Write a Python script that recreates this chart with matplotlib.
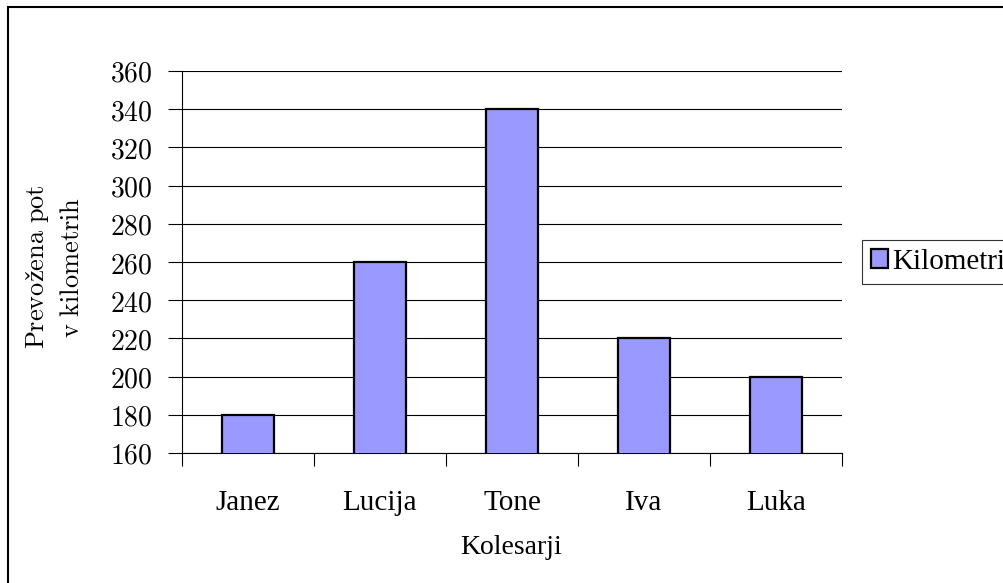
import matplotlib.pyplot as plt
from matplotlib.patches import Rectangle
from matplotlib.font_manager import FontProperties
import numpy as np

# Data
kolesarji = ["Janez", "Lucija", "Tone", "Iva", "Luka"]
kilometri = [180, 260, 340, 220, 200]
y_ticks = list(range(160, 361, 20))

bar_color = '#9999ff'
plt.rcParams['mathtext.fontset'] = 'cm'
txt_font = FontProperties(family=['Liberation Serif', 'DejaVu Serif'], size=21)

fig = plt.figure(figsize=(10.04, 5.83), dpi=100)
ax = fig.add_axes([182 / 1004, 1 - 453 / 583, 660 / 1004, 382 / 583])

x = np.arange(len(kolesarji))
ax.bar(x, kilometri, width=0.4, color=bar_color, edgecolor='black',
       linewidth=1.6, label='Kilometri', zorder=3)

ax.set_ylim(160, 360)
ax.set_xlim(-0.5, len(kolesarji) - 0.5)

# y axis: ticks outward, labels in Computer Modern
ax.set_yticks(y_ticks)
ax.set_yticklabels([f'${v}$' for v in y_ticks], fontsize=20)
ax.tick_params(axis='y', direction='out', length=10, width=0.8, pad=11)
ax.yaxis.grid(True, color='black', linewidth=0.8, zorder=0)

# x axis: tick marks between categories, labels under each bar
ax.set_xticks(np.arange(-0.5, len(kolesarji), 1.0))
ax.set_xticklabels([])
ax.set_xticks(x, minor=True)
ax.set_xticklabels(kolesarji, minor=True, fontproperties=txt_font)
ax.tick_params(axis='x', which='major', direction='out', length=9, width=0.8)
ax.tick_params(axis='x', which='minor', length=0, pad=27)

for side in ['top', 'right']:
    ax.spines[side].set_visible(False)
for side in ['left', 'bottom']:
    ax.spines[side].set_linewidth(0.8)

fig.text(38 / 1004, 1 - 267 / 583, r'$\mathrm{Prevožena\ pot}$', rotation=90,
         ha='center', va='center', fontsize=19)
fig.text(72 / 1004, 1 - 267 / 583, r'$\mathrm{v\ kilometrih}$', rotation=90,
         ha='center', va='center', fontsize=19)
fig.text(511 / 1004, 1 - 548 / 583, 'Kolesarji', ha='center', va='center',
         fontproperties=FontProperties(family=['Liberation Serif', 'DejaVu Serif'], size=20))

leg = fig.legend(loc='center left', bbox_to_anchor=(862 / 1004, 1 - 262 / 583),
                 prop=txt_font, fancybox=False,
                 frameon=True, borderpad=0.3, handlelength=0.6, handleheight=0.6,
                 handletextpad=0.15, borderaxespad=0)
leg.get_frame().set_edgecolor('black')
leg.get_frame().set_linewidth(0.8)

# outer chart border (right and bottom fall off the image)
fig.patches.append(Rectangle((8 / 1004, -0.1), 1.2, 1.1 - 7 / 583,
                             transform=fig.transFigure, fill=False,
                             edgecolor='black', linewidth=1.5))

plt.savefig('out.png', dpi=100)
